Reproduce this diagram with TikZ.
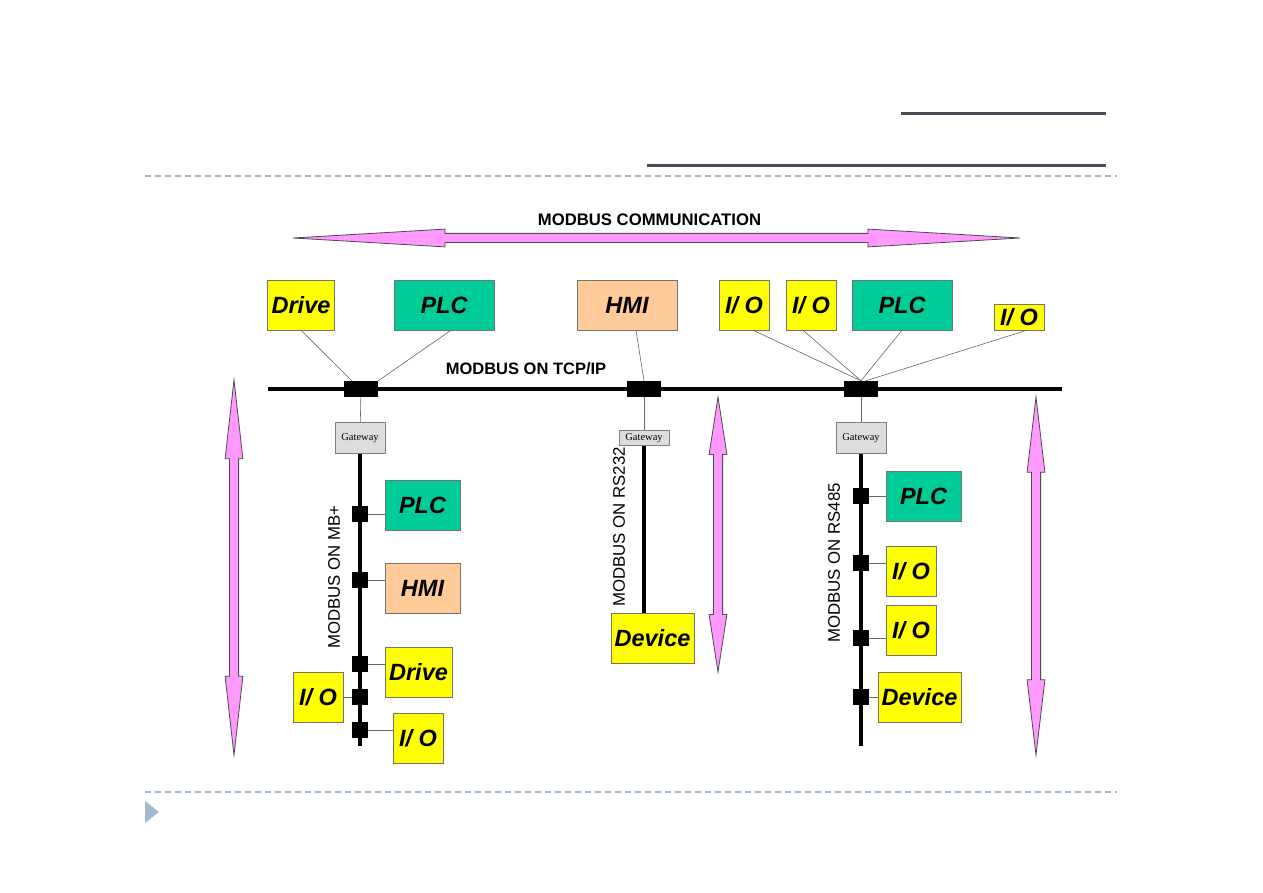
\documentclass[tikz,border=0pt]{standalone}
\usepackage{fontspec}
\setmainfont{Liberation Sans}
\newfontfamily\gwfont{Liberation Serif}
\usetikzlibrary{shapes.arrows, calc}
\definecolor{mbyellow}{HTML}{FFFF00}
\definecolor{mbgreen}{HTML}{00CC99}
\definecolor{mbpeach}{HTML}{FFCC99}
\definecolor{mbgate}{HTML}{DDDDDD}
\definecolor{mbpink}{HTML}{FF99FF}
\definecolor{mbtitle}{HTML}{4A4A55}
\definecolor{mbdash}{HTML}{A2BAD0}

\begin{document}
\begin{tikzpicture}[x=1pt, y=-1pt,
  every node/.style={font=\fontsize{16}{18}\selectfont},
  yelnode/.style={rectangle, draw=black!55, fill=mbyellow, minimum width=50pt, minimum height=50pt, inner sep=0pt, font=\fontsize{23.5}{26}\selectfont\bfseries\itshape},
  grnnode/.style={yelnode, fill=mbgreen, minimum width=100pt},
  hminode/.style={yelnode, fill=mbpeach, minimum width=100pt},
  gatenode/.style={rectangle, draw=black!50, fill=mbgate, minimum width=50pt, minimum height=31pt, inner sep=0pt, font=\gwfont\fontsize{10.5}{12}\selectfont},
  tapnode/.style={rectangle, fill=black, minimum width=34pt, minimum height=16pt, inner sep=0pt},
  sqnode/.style={rectangle, fill=black, minimum size=16pt, inner sep=0pt},
  busline/.style={line width=4pt},
  drop/.style={draw=black!60, line width=0.6pt},
  fatarrow/.style={double arrow, draw=black!70, fill=mbpink, line width=0.8pt, inner sep=0pt, inner ysep=4.2pt, minimum width=0pt, double arrow head extend=4.3pt},
  buslabel/.style={font=\fontsize{16.5}{18}\selectfont\bfseries},
  sidelabel/.style={rotate=90, font=\fontsize{16.8}{18}\selectfont},
]
\useasboundingbox[fill=white] (0,0) rectangle (1263,893);

\draw[mbtitle, line width=3pt] (901,114) -- (1106,114);
\draw[mbtitle, line width=3pt] (647,166) -- (1106,166);
\draw[mbdash, line width=1.2pt, dash pattern=on 6pt off 4pt] (145,176) -- (1117,176);
\draw[mbdash, line width=1.2pt, dash pattern=on 6pt off 4pt] (145,792) -- (1117,792);
\fill[mbdash] (145,801) -- (159,812) -- (145,823) -- cycle;

\node[fatarrow, minimum height=727pt, double arrow tip angle=6.7] (comm) at (656.5,238) {};
\node[buslabel, font=\fontsize{16.7}{18}\selectfont\bfseries] (commlbl) at (649.5,220) {MODBUS COMMUNICATION};
\node[fatarrow, rotate=90, minimum height=375pt, double arrow tip angle=12.9] (arrA) at (234,567.5) {};
\node[fatarrow, rotate=90, minimum height=275pt, double arrow tip angle=17.6] (arrB) at (718,534.5) {};
\node[fatarrow, rotate=90, minimum height=358pt, double arrow tip angle=13.5] (arrC) at (1036,576) {};

\coordinate (busL) at (268,389);
\coordinate (busR) at (1062,389);
\draw[busline] (busL) -- (busR);
\node[buslabel] (tcplbl) at (526,369) {MODBUS ON TCP/IP};

\node[tapnode] (t1) at (361,389) {};
\node[tapnode] (t2) at (644,389) {};
\node[tapnode] (t3) at (861,389) {};

\node[yelnode, minimum width=67pt] (drv1) at (301,305) {Drive};
\node[grnnode] (plc1) at (444,305) {PLC};
\node[hminode] (hmi1) at (627,305) {HMI};
\node[yelnode] (io1) at (744,305) {I/ O};
\node[yelnode] (io2) at (811,305) {I/ O};
\node[grnnode] (plc2) at (902,305) {PLC};
\node[yelnode, minimum height=26pt] (io3) at (1019,317) {I/ O};

\draw[drop] (drv1.south) -- ([xshift=8pt]t1.north west);
\draw[drop] ([xshift=7pt]plc1.south) -- (t1.north east);
\draw[drop] ([xshift=9pt]hmi1.south) -- (t2.north);
\draw[drop] ([xshift=9pt]io1.south) -- (t3.north);
\draw[drop] ([xshift=-8pt]io2.south) -- (t3.north);
\draw[drop] (plc2.south) -- (t3.north);
\draw[drop] ([xshift=8pt]io3.south) -- ([xshift=5pt]t3.north);

\node[gatenode] (gw1) at (360,438) {Gateway};
\node[gatenode, minimum height=15pt] (gw2) at (644,438) {Gateway};
\node[gatenode] (gw3) at (861,438) {Gateway};
\draw[drop] (t1) -- (gw1);
\draw[drop] (t2) -- (gw2);
\draw[drop] (t3) -- (gw3);

\coordinate (end1) at (360,746);
\draw[busline] (gw1.south) -- (end1);
\node[sidelabel] (mblbl) at (334,577) {MODBUS ON MB+};
\node[sqnode] (s1a) at (360,514) {};
\node[sqnode] (s1b) at (360,580) {};
\node[sqnode] (s1c) at (360,664) {};
\node[sqnode] (s1d) at (360,697) {};
\node[sqnode] (s1e) at (360,730) {};
\node[grnnode, minimum width=75pt] (plc3) at (422.5,505) {PLC};
\node[hminode, minimum width=75pt] (hmi2) at (422.5,588) {HMI};
\node[yelnode, minimum width=67pt] (drv2) at (418.5,672) {Drive};
\node[yelnode] (io4) at (318,697.5) {I/ O};
\node[yelnode] (io5) at (418,738) {I/ O};
\draw[drop] (s1a.east) -- (s1a -| plc3.west);
\draw[drop] (s1b.east) -- (s1b -| hmi2.west);
\draw[drop] (s1c.east) -- (s1c -| drv2.west);
\draw[drop] (s1d.west) -- (s1d -| io4.east);
\draw[drop] (s1e.east) -- (s1e -| io5.west);

\node[yelnode, minimum width=83pt] (dev1) at (652.5,638) {Device};
\draw[busline] (gw2.south) -- (gw2.south |- dev1.north);
\node[sidelabel] (rs232lbl) at (619,527) {MODBUS ON RS232};

\coordinate (end3) at (861,746);
\draw[busline] (gw3.south) -- (end3);
\node[sidelabel] (rs485lbl) at (834,563) {MODBUS ON RS485};
\node[sqnode] (s3a) at (861,496) {};
\node[sqnode] (s3b) at (861,563) {};
\node[sqnode] (s3c) at (861,638) {};
\node[sqnode] (s3d) at (861,697) {};
\node[grnnode, minimum width=75pt] (plc4) at (923.5,496) {PLC};
\node[yelnode] (io6) at (911,571) {I/ O};
\node[yelnode] (io7) at (911,630) {I/ O};
\node[yelnode, minimum width=83pt] (dev2) at (919.5,697) {Device};
\draw[drop] (s3a.east) -- (s3a -| plc4.west);
\draw[drop] (s3b.east) -- (s3b -| io6.west);
\draw[drop] (s3c.east) -- (s3c -| io7.west);
\draw[drop] (s3d.east) -- (s3d -| dev2.west);
\end{tikzpicture}
\end{document}
